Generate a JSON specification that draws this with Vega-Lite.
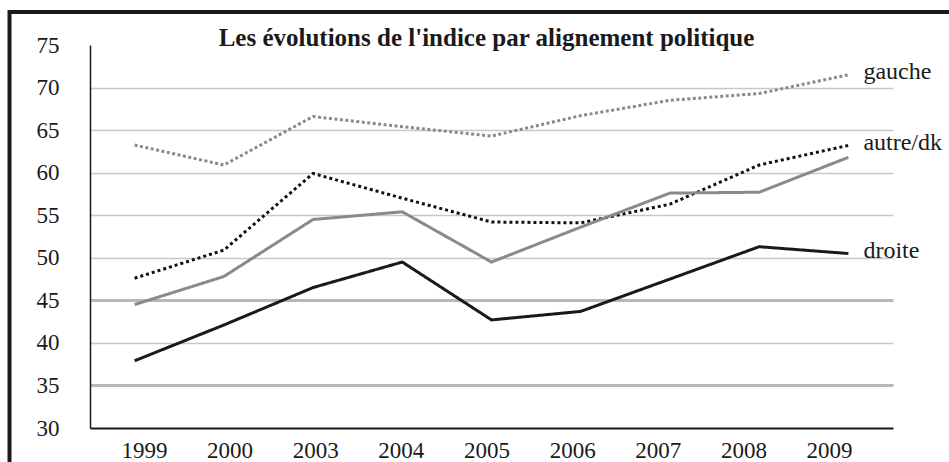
{
  "$schema": "https://vega.github.io/schema/vega-lite/v6.json",
  "width": 942,
  "height": 453,
  "autosize": {"type": "none"},
  "padding": {"left": 9.5, "top": 12, "right": -2.5, "bottom": -3},
  "background": "white",
  "title": {
    "text": "Les évolutions de l'indice par alignement politique",
    "font": "Liberation Serif",
    "fontSize": 25,
    "fontWeight": "bold",
    "color": "#1a1a1a",
    "anchor": "middle",
    "frame": "group",
    "orient": "top",
    "baseline": "alphabetic",
    "offset": -59,
    "dx": 6
  },
  "config": {
    "font": "Liberation Serif",
    "view": {"stroke": "#1a1a1a", "strokeWidth": 4}
  },
  "data": {
    "values": [
      {"annee": "1999", "serie": "gauche", "indice": 63.25},
      {"annee": "2000", "serie": "gauche", "indice": 60.9},
      {"annee": "2003", "serie": "gauche", "indice": 66.6},
      {"annee": "2004", "serie": "gauche", "indice": 65.4},
      {"annee": "2005", "serie": "gauche", "indice": 64.3},
      {"annee": "2006", "serie": "gauche", "indice": 66.7},
      {"annee": "2007", "serie": "gauche", "indice": 68.5},
      {"annee": "2008", "serie": "gauche", "indice": 69.3},
      {"annee": "2009", "serie": "gauche", "indice": 71.5},
      {"annee": "1999", "serie": "autre/dk", "indice": 47.6},
      {"annee": "2000", "serie": "autre/dk", "indice": 50.9},
      {"annee": "2003", "serie": "autre/dk", "indice": 59.9},
      {"annee": "2004", "serie": "autre/dk", "indice": 57.0},
      {"annee": "2005", "serie": "autre/dk", "indice": 54.2},
      {"annee": "2006", "serie": "autre/dk", "indice": 54.1},
      {"annee": "2007", "serie": "autre/dk", "indice": 56.3},
      {"annee": "2008", "serie": "autre/dk", "indice": 60.9},
      {"annee": "2009", "serie": "autre/dk", "indice": 63.2},
      {"annee": "1999", "serie": "centre", "indice": 44.5},
      {"annee": "2000", "serie": "centre", "indice": 47.8},
      {"annee": "2003", "serie": "centre", "indice": 54.5},
      {"annee": "2004", "serie": "centre", "indice": 55.4},
      {"annee": "2005", "serie": "centre", "indice": 49.5},
      {"annee": "2006", "serie": "centre", "indice": 53.6},
      {"annee": "2007", "serie": "centre", "indice": 57.6},
      {"annee": "2008", "serie": "centre", "indice": 57.7},
      {"annee": "2009", "serie": "centre", "indice": 61.8},
      {"annee": "1999", "serie": "droite", "indice": 37.9},
      {"annee": "2000", "serie": "droite", "indice": 42.1},
      {"annee": "2003", "serie": "droite", "indice": 46.5},
      {"annee": "2004", "serie": "droite", "indice": 49.5},
      {"annee": "2005", "serie": "droite", "indice": 42.7},
      {"annee": "2006", "serie": "droite", "indice": 43.7},
      {"annee": "2007", "serie": "droite", "indice": 47.5},
      {"annee": "2008", "serie": "droite", "indice": 51.3},
      {"annee": "2009", "serie": "droite", "indice": 50.5}
    ]
  },
  "encoding": {
    "x": {
      "field": "annee",
      "type": "ordinal",
      "scale": {"type": "point", "range": [80.5, 883.5], "padding": 0.5},
      "axis": {
        "orient": "bottom",
        "offset": -37,
        "title": null,
        "ticks": false,
        "grid": false,
        "domainColor": "#1a1a1a",
        "domainWidth": 1.8,
        "labelAngle": 0,
        "labelFont": "Liberation Serif",
        "labelFontSize": 23,
        "labelColor": "#1a1a1a",
        "labelPadding": 11,
        "labelBaseline": "top",
        "encoding": {"labels": {"dx": {"value": {"expr": "9.3 - 3.575 * indexof(domain('x'), datum.value)"}}}}
      }
    },
    "y": {
      "field": "indice",
      "type": "quantitative",
      "scale": {"domain": [30, 75], "range": [416, 33], "nice": false, "zero": false},
      "axis": {
        "orient": "left",
        "offset": -80.5,
        "values": [30, 35, 40, 45, 50, 55, 60, 65, 70, 75],
        "title": null,
        "ticks": false,
        "domainColor": "#1a1a1a",
        "domainWidth": 1.5,
        "labelFont": "Liberation Serif",
        "labelFontSize": 23,
        "labelColor": "#1a1a1a",
        "labelPadding": 31,
        "grid": true,
        "gridColor": {"condition": {"test": "datum.value == 35 || datum.value == 45", "value": "#b8b8b8"}, "value": "#c8c8c8"},
        "gridWidth": {"condition": {"test": "datum.value == 35 || datum.value == 45", "value": 3}, "value": 1.4},
        "gridOpacity": {"condition": {"test": "datum.value == 30 || datum.value == 75", "value": 0}, "value": 1}
      }
    }
  },
  "layer": [
    {
      "mark": {"type": "line", "strokeWidth": 3, "strokeCap": "butt"},
      "encoding": {
        "color": {
          "field": "serie",
          "type": "nominal",
          "scale": {"domain": ["gauche", "autre/dk", "centre", "droite"], "range": ["#8a8a8a", "#111111", "#8a8a8a", "#1a1a1a"]},
          "legend": null
        },
        "strokeDash": {
          "field": "serie",
          "type": "nominal",
          "scale": {"domain": ["gauche", "autre/dk", "centre", "droite"], "range": [[3, 2.5], [3, 3], [1, 0], [1, 0]]},
          "legend": null
        }
      }
    },
    {
      "transform": [{"filter": "datum.annee == '2009' && datum.serie != 'centre'"}],
      "mark": {"type": "text", "align": "left", "baseline": "middle", "dx": 15, "dy": -2.5, "font": "Liberation Serif", "fontSize": 24, "color": "#1a1a1a"},
      "encoding": {"text": {"field": "serie"}}
    }
  ]
}
